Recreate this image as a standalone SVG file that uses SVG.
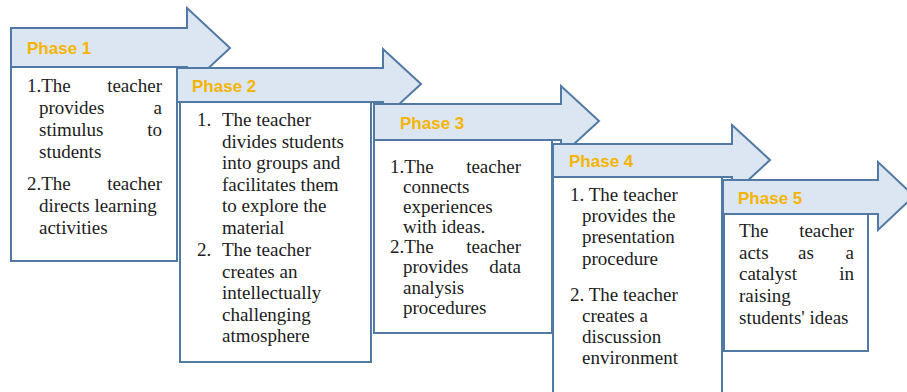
<svg xmlns="http://www.w3.org/2000/svg" width="907" height="392" viewBox="0 0 907 392">
<style>
.hdr{fill:#dce6f2;stroke:#5079a5;stroke-width:2;stroke-linejoin:miter}
.box{fill:#ffffff;stroke:#5079a5;stroke-width:2}
.ph{font-family:"Liberation Sans",Arial,sans-serif;font-weight:bold;font-size:17px;fill:#f5b400}
.t{font-family:"Liberation Serif","Times New Roman",serif;font-size:19px;fill:#1c1c1c}
.e{text-anchor:end}
.m{text-anchor:middle}
</style>
<rect width="907" height="392" fill="#ffffff"/>
<g id="phase1">
<polygon class="hdr" points="11,28 187,28 187,8 230,48 187,88 187,67 11,67"/>
<text class="ph" x="27" y="54">Phase 1</text>
<rect class="box" x="11" y="67" width="166" height="194"/>
<text class="t" x="27" y="92">1.The</text><text class="t e" x="162" y="92">teacher</text>
<text class="t" x="39" y="114">provides</text><text class="t e" x="162" y="114">a</text>
<text class="t" x="39" y="136">stimulus</text><text class="t e" x="162" y="136">to</text>
<text class="t" x="39" y="158">students</text>
<text class="t" x="27" y="190">2.The</text><text class="t e" x="162" y="190">teacher</text>
<text class="t" x="39" y="212">directs learning</text>
<text class="t" x="39" y="234">activities</text>
</g>
<g id="phase2">
<polygon class="hdr" points="177,68 383,68 383,49 421,84 383,119 383,102 177,102"/>
<text class="ph" x="192" y="92">Phase 2</text>
<rect class="box" x="180" y="102" width="191" height="260"/>
<text class="t" x="197" y="126">1.</text><text class="t" x="222" y="126">The teacher</text>
<text class="t" x="222" y="148">divides students</text>
<text class="t" x="222" y="169">into groups and</text>
<text class="t" x="222" y="191">facilitates them</text>
<text class="t" x="222" y="212">to explore the</text>
<text class="t" x="222" y="234">material</text>
<text class="t" x="197" y="256">2.</text><text class="t" x="222" y="256">The teacher</text>
<text class="t" x="222" y="278">creates an</text>
<text class="t" x="222" y="299">intellectually</text>
<text class="t" x="222" y="321">challenging</text>
<text class="t" x="222" y="342">atmosphere</text>
</g>
<g id="phase3">
<polygon class="hdr" points="374,104 561,104 561,86 599,121 561,156 561,140 374,140"/>
<text class="ph" x="400" y="129">Phase 3</text>
<rect class="box" x="374" y="140" width="178" height="193"/>
<text class="t" x="390" y="173">1.The</text><text class="t e" x="521" y="173">teacher</text>
<text class="t" x="403" y="193">connects</text>
<text class="t" x="403" y="213">experiences</text>
<text class="t" x="403" y="233">with ideas.</text>
<text class="t" x="390" y="253">2.The</text><text class="t e" x="521" y="253">teacher</text>
<text class="t" x="403" y="273">provides</text><text class="t e" x="521" y="273">data</text>
<text class="t" x="403" y="294">analysis</text>
<text class="t" x="403" y="314">procedures</text>
</g>
<g id="phase4">
<polygon class="hdr" points="553,144 732,144 732,125 770,160 732,195 732,177 553,177"/>
<text class="ph" x="569" y="167">Phase 4</text>
<rect class="box" x="553" y="177" width="169" height="225"/>
<text class="t" x="570" y="201">1. The teacher</text>
<text class="t" x="582" y="222">provides the</text>
<text class="t" x="582" y="243">presentation</text>
<text class="t" x="582" y="265">procedure</text>
<text class="t" x="570" y="301">2. The teacher</text>
<text class="t" x="582" y="322">creates a</text>
<text class="t" x="582" y="343">discussion</text>
<text class="t" x="582" y="364">environment</text>
</g>
<g id="phase5">
<polygon class="hdr" points="723,180 878,180 878,162 914,196 878,230 878,214 723,214"/>
<text class="ph" x="738" y="204">Phase 5</text>
<rect class="box" x="724" y="214" width="144" height="137"/>
<text class="t" x="739" y="237">The</text><text class="t e" x="854" y="237">teacher</text>
<text class="t" x="739" y="259">acts</text><text class="t m" x="806" y="259">as</text><text class="t e" x="854" y="259">a</text>
<text class="t" x="739" y="280">catalyst</text><text class="t e" x="854" y="280">in</text>
<text class="t" x="739" y="302">raising</text>
<text class="t" x="739" y="324">students' ideas</text>
</g>
<g id="connectors"></g>
</svg>
